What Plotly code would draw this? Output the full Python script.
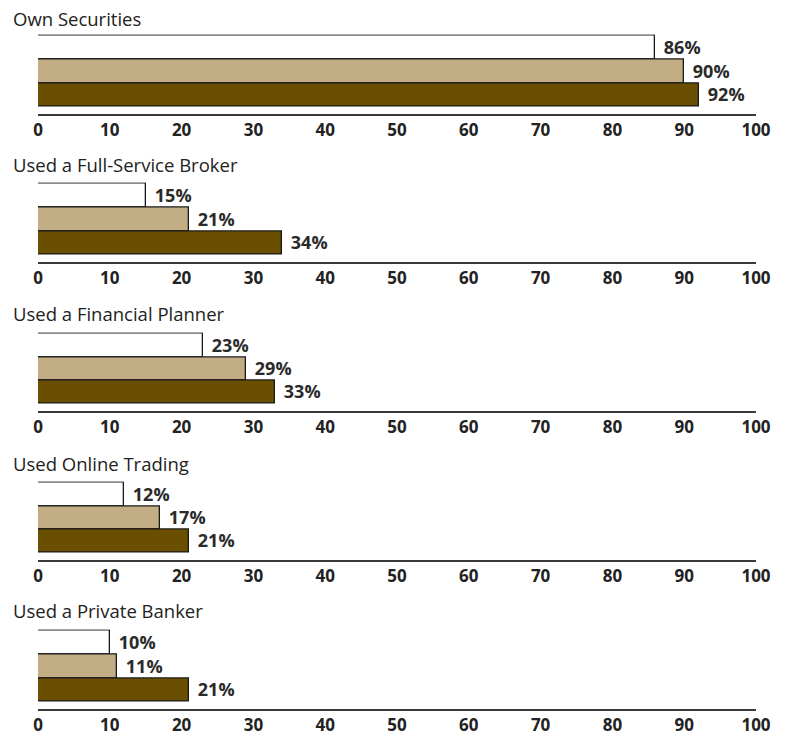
import plotly.graph_objects as go

categories = ["Own Securities", "Used a Full-Service Broker", "Used a Financial Planner",
              "Used Online Trading", "Used a Private Banker"]
series_names = ["Survey 1", "Survey 2", "Survey 3"]
series_values = [
    [86, 15, 23, 12, 10],
    [90, 21, 29, 17, 11],
    [92, 34, 33, 21, 21],
]
series_colors = ["#FFFFFF", "#C3AD84", "#6A4F00"]
tick_values = [0, 10, 20, 30, 40, 50, 60, 70, 80, 90, 100]

W, H = 785, 736
FONT = "Open Sans"

# panel geometry in page pixels: (title centre, bar top, axis line)
panel_px = [(18, 36, 114), (164, 184, 262), (313, 334, 411), (463, 483, 560), (610, 631, 709)]
x_left, x_right = 38, 756
y_lo, y_hi = -0.8, 2.56


def fx(px):
    return px / W


def fy(py):
    return 1 - py / H


fig = go.Figure()
layout = dict(
    width=W, height=H, autosize=False,
    margin=dict(l=0, r=0, t=0, b=0, pad=0, autoexpand=False),
    paper_bgcolor="white", plot_bgcolor="white",
    showlegend=False, bargap=0,
    font=dict(family=FONT, color="#222"),
    annotations=[],
)

for i, cat in enumerate(categories):
    n = i + 1
    xa = "x" if n == 1 else f"x{n}"
    ya = "y" if n == 1 else f"y{n}"
    for j, name in enumerate(series_names):
        v = series_values[j][i]
        fig.add_trace(go.Bar(
            x=[v], y=[2 - j], orientation="h", width=1,
            name=name,
            marker=dict(color=series_colors[j], line=dict(color="#1a1a1a", width=1.3)),
            text=[f"\u00a0\u200a{v}%"], textposition="outside", cliponaxis=False,
            constraintext="none",
            textfont=dict(family=FONT, size=18, color="#2a2a2a", weight="bold"),
            xaxis=xa, yaxis=ya, hoverinfo="skip",
        ))
    title_px, top, axis_px = panel_px[i]
    unit = (axis_px - top) / (2.5 - y_lo)
    dom_top = top - (y_hi - 2.5) * unit
    layout["xaxis" if n == 1 else f"xaxis{n}"] = dict(
        domain=[fx(x_left), fx(x_right)], range=[0, 100],
        tickvals=tick_values, ticks="", showgrid=False, zeroline=False,
        showline=True, linecolor="#3a3a3a", linewidth=1.6,
        tickfont=dict(family=FONT, size=17, color="#222", weight="bold"),
        automargin=False, ticklabeloverflow="allow",
        anchor=ya, fixedrange=True,
    )
    layout["yaxis" if n == 1 else f"yaxis{n}"] = dict(
        domain=[fy(axis_px), fy(dom_top)], range=[y_lo, y_hi],
        showticklabels=False, showgrid=False, zeroline=False, showline=False,
        automargin=False,
        anchor=xa, fixedrange=True,
    )
    layout["annotations"].append(dict(
        text=cat, xref="paper", yref="paper", x=fx(10.5), y=fy(title_px),
        xanchor="left", yanchor="middle", showarrow=False,
        font=dict(family=FONT, size=18.5, color="#222"),
    ))

fig.update_layout(**layout)
fig.write_html("out.html")
